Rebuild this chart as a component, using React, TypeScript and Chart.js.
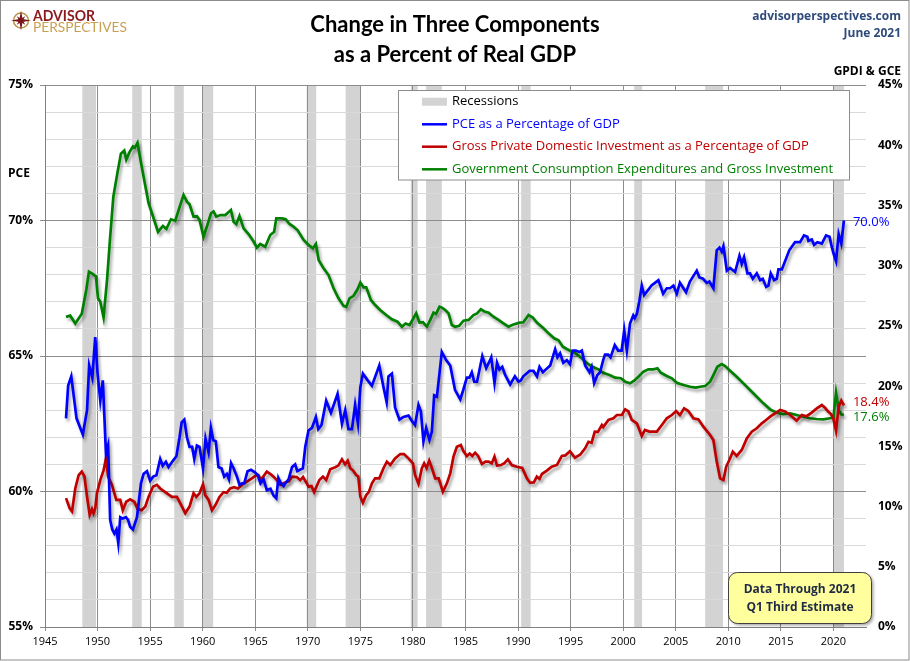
import React, { useEffect, useRef } from 'react';
import { Chart, registerables } from 'chart.js';

Chart.register(...registerables);

// ---------- DATA ----------
// PCE as % of GDP (left axis) : [year, percent]
const pceSeries: [number, number][] = [
  [1947.0, 62.7], [1947.2, 63.9], [1947.5, 64.25], [1948.0, 62.7], [1948.3, 62.4], [1948.6, 62.1],
  [1949.0, 63.0], [1949.2, 64.65], [1949.5, 64.2], [1949.78, 65.7], [1950.0, 64.35], [1950.26, 63.35],
  [1950.5, 64.1], [1950.8, 61.4], [1951.0, 61.7], [1951.2, 58.95], [1951.4, 58.6], [1951.6, 58.45],
  [1951.8, 58.6], [1951.97, 58.1], [1952.16, 59.05], [1952.4, 59.0], [1952.7, 59.05], [1952.9, 58.95],
  [1953.1, 58.7], [1953.37, 58.6], [1953.75, 59.05], [1954.13, 60.3], [1954.38, 60.65], [1954.7, 60.75],
  [1955.0, 60.4], [1955.3, 60.55], [1955.6, 60.6], [1955.96, 61.2], [1956.2, 60.95], [1956.5, 61.1],
  [1956.75, 60.9], [1957.2, 61.15], [1957.5, 61.3], [1957.8, 62.0], [1958.0, 62.55], [1958.25, 62.65],
  [1958.5, 62.0], [1958.75, 61.65], [1959.0, 61.65], [1959.2, 61.2], [1959.45, 61.7], [1959.7, 61.65],
  [1960.03, 60.85], [1960.27, 61.95], [1960.56, 61.45], [1960.78, 62.35], [1961.0, 61.9], [1961.25, 61.85],
  [1961.5, 60.9], [1961.8, 60.85], [1962.05, 60.55], [1962.3, 60.65], [1962.5, 60.45], [1962.7, 61.05],
  [1962.95, 60.85], [1963.26, 60.55], [1963.5, 60.25], [1963.75, 60.3], [1963.95, 60.3], [1964.27, 60.75],
  [1964.6, 60.8], [1965.0, 60.7], [1965.25, 60.6], [1965.5, 60.3], [1965.8, 60.45], [1966.1, 60.05],
  [1966.45, 60.1], [1966.74, 59.85], [1967.0, 59.75], [1967.2, 60.5], [1967.45, 60.3], [1967.7, 60.2],
  [1967.95, 60.35], [1968.17, 60.45], [1968.5, 60.9], [1968.8, 61.0], [1969.0, 60.75], [1969.25, 60.8],
  [1969.53, 60.85], [1969.76, 61.65], [1970.07, 62.25], [1970.4, 62.35], [1970.77, 62.75], [1971.0, 62.3],
  [1971.3, 62.45], [1971.75, 63.35], [1972.2, 62.9], [1972.83, 63.6], [1973.25, 62.5], [1973.56, 63.0],
  [1973.87, 62.3], [1974.2, 62.3], [1974.5, 63.2], [1974.77, 62.5], [1975.0, 63.85], [1975.24, 64.35],
  [1975.7, 64.1], [1976.1, 63.9], [1976.8, 64.65], [1977.2, 63.85], [1977.5, 63.3], [1977.67, 64.25],
  [1978.0, 64.35], [1978.3, 63.1], [1978.72, 62.65], [1979.1, 62.75], [1979.58, 62.8], [1979.9, 62.6],
  [1980.2, 62.45], [1980.53, 63.2], [1980.76, 62.95], [1981.0, 61.85], [1981.26, 62.35], [1981.57, 61.9],
  [1981.8, 62.2], [1982.02, 63.55], [1982.28, 63.5], [1982.75, 65.15], [1983.16, 64.85], [1983.55, 64.65],
  [1984.0, 63.75], [1984.5, 63.4], [1984.75, 63.7], [1985.13, 64.2], [1985.37, 64.2], [1985.6, 64.4],
  [1985.83, 64.05], [1986.1, 64.05], [1986.6, 65.0], [1986.97, 64.55], [1987.28, 64.8], [1987.45, 64.95],
  [1987.76, 64.0], [1988.0, 64.75], [1988.23, 64.5], [1988.5, 64.6], [1988.77, 64.3], [1989.25, 63.95],
  [1989.7, 64.25], [1990.04, 64.05], [1990.26, 64.1], [1990.5, 64.25], [1991.1, 64.45], [1991.47, 64.45],
  [1991.8, 64.25], [1992.04, 64.6], [1992.36, 64.4], [1993.06, 64.65], [1993.53, 65.25], [1993.75, 64.95],
  [1994.0, 65.1], [1994.3, 64.75], [1994.64, 64.85], [1994.94, 64.7], [1995.2, 65.2], [1995.5, 65.2],
  [1995.84, 65.15], [1996.07, 65.2], [1996.38, 64.65], [1996.8, 64.4], [1997.0, 64.6], [1997.24, 64.0],
  [1997.55, 64.3], [1997.8, 64.4], [1998.1, 64.85], [1998.27, 65.05], [1998.58, 65.05], [1998.8, 64.95],
  [1999.2, 65.4], [1999.53, 65.2], [1999.85, 65.2], [2000.1, 65.95], [2000.35, 65.2], [2000.65, 66.2],
  [2000.96, 66.5], [2001.1, 66.4], [2001.3, 66.55], [2001.55, 67.05], [2001.77, 67.6], [2001.99, 67.25],
  [2002.4, 67.45], [2002.7, 67.6], [2003.02, 67.7], [2003.35, 67.8], [2003.58, 67.55], [2003.8, 67.3],
  [2004.15, 67.5], [2004.45, 67.5], [2004.78, 67.6], [2005.1, 67.3], [2005.4, 67.7], [2005.98, 67.35],
  [2006.35, 67.75], [2007.0, 68.15], [2007.25, 67.9], [2007.6, 67.85], [2007.95, 67.7], [2008.2, 67.75],
  [2008.58, 67.5], [2008.9, 68.9], [2009.16, 69.0], [2009.38, 68.85], [2009.54, 69.05], [2009.86, 68.15],
  [2010.17, 68.25], [2010.65, 68.1], [2011.06, 68.7], [2011.28, 68.4], [2011.5, 68.65], [2011.82, 68.05],
  [2012.07, 68.05], [2012.33, 67.85], [2012.71, 68.05], [2013.03, 67.8], [2013.28, 67.85], [2013.6, 67.55],
  [2013.82, 67.6], [2014.04, 68.05], [2014.36, 67.8], [2014.61, 67.85], [2014.77, 68.2], [2015.1, 68.2],
  [2015.4, 68.5], [2015.8, 68.9], [2016.35, 69.2], [2016.83, 69.2], [2017.2, 69.45], [2017.52, 69.4],
  [2017.62, 69.25], [2017.94, 69.3], [2018.16, 69.1], [2018.48, 69.2], [2018.9, 69.15], [2019.3, 69.45],
  [2019.63, 69.4], [2019.8, 69.1], [2020.0, 68.8], [2020.25, 68.5], [2020.5, 69.5], [2020.75, 69.15],
  [2021.0, 70.0],
];

// Gross Private Domestic Investment as % of GDP (right axis)
const gpdiSeries: [number, number][] = [
  [1947.0, 10.7], [1947.35, 9.85], [1947.57, 9.6], [1947.88, 11.5], [1948.2, 12.6], [1948.5, 12.9],
  [1948.75, 12.5], [1949.0, 10.8], [1949.25, 9.3], [1949.47, 9.8], [1949.62, 9.45], [1949.78, 9.85],
  [1949.94, 11.1], [1950.26, 12.2], [1950.57, 13.0], [1950.8, 14.0], [1951.0, 12.5], [1951.37, 11.8],
  [1951.78, 10.55], [1952.16, 10.55], [1952.4, 9.7], [1952.73, 10.4], [1953.1, 10.6], [1953.5, 10.4],
  [1953.8, 9.8], [1954.2, 9.7], [1954.54, 10.0], [1954.85, 10.8], [1955.27, 11.65], [1955.65, 11.8],
  [1955.96, 11.5], [1956.44, 11.2], [1957.07, 10.8], [1957.55, 10.8], [1958.03, 10.0], [1958.34, 9.45],
  [1958.75, 10.0], [1959.13, 11.1], [1959.39, 10.8], [1959.7, 11.1], [1960.03, 11.85], [1960.24, 10.95],
  [1960.56, 10.55], [1960.88, 9.7], [1961.2, 10.1], [1961.6, 10.8], [1961.98, 11.2], [1962.3, 11.15],
  [1962.62, 11.5], [1963.0, 11.6], [1963.35, 11.5], [1963.73, 11.8], [1964.2, 12.07], [1964.68, 12.34],
  [1965.0, 12.54], [1965.3, 12.62], [1965.55, 12.2], [1965.8, 12.54], [1966.1, 12.9], [1966.45, 12.7],
  [1966.74, 12.48], [1967.05, 12.2], [1967.38, 11.8], [1967.85, 12.0], [1968.2, 12.1], [1968.49, 12.48],
  [1968.95, 12.45], [1969.28, 12.2], [1969.55, 12.45], [1969.85, 12.0], [1970.07, 11.65], [1970.35, 11.7],
  [1970.6, 11.2], [1970.85, 11.7], [1971.1, 12.2], [1971.44, 12.48], [1971.75, 12.2], [1972.13, 13.1],
  [1972.6, 13.26], [1972.9, 13.4], [1973.25, 13.92], [1973.55, 13.5], [1973.8, 13.81], [1974.04, 13.18],
  [1974.3, 13.0], [1974.6, 12.62], [1974.8, 12.5], [1975.0, 10.82], [1975.24, 10.32], [1975.56, 10.96],
  [1975.8, 11.2], [1976.1, 11.93], [1976.4, 12.34], [1976.8, 12.34], [1977.2, 13.18], [1977.52, 13.73],
  [1977.85, 13.45], [1978.3, 14.0], [1978.8, 14.36], [1979.15, 14.36], [1979.58, 14.0], [1980.0, 13.59],
  [1980.2, 12.62], [1980.53, 11.88], [1980.85, 13.18], [1981.07, 13.59], [1981.3, 13.2], [1981.55, 13.81],
  [1981.8, 13.2], [1982.12, 12.34], [1982.45, 12.34], [1982.85, 11.23], [1983.23, 11.93], [1983.55, 12.76],
  [1983.86, 14.14], [1984.18, 14.97], [1984.56, 15.11], [1984.8, 14.6], [1985.13, 14.2], [1985.4, 14.4],
  [1985.65, 14.2], [1985.92, 14.47], [1986.2, 14.2], [1986.56, 13.53], [1986.9, 13.73], [1987.2, 13.73],
  [1987.5, 13.59], [1987.76, 14.14], [1988.0, 13.4], [1988.4, 13.45], [1988.7, 13.6], [1989.03, 13.92],
  [1989.4, 13.45], [1989.89, 13.31], [1990.4, 13.2], [1990.84, 12.34], [1991.15, 11.98], [1991.5, 12.0],
  [1991.79, 12.48], [1992.05, 12.3], [1992.27, 12.7], [1992.74, 12.98], [1993.2, 13.3], [1993.7, 13.45],
  [1994.17, 14.2], [1994.5, 14.25], [1994.94, 14.6], [1995.41, 14.05], [1995.9, 14.3], [1996.38, 14.83],
  [1996.7, 15.38], [1997.0, 15.3], [1997.3, 16.22], [1997.6, 16.2], [1997.97, 16.77], [1998.1, 16.6],
  [1998.6, 17.19], [1999.07, 17.33], [1999.4, 17.6], [1999.87, 17.6], [2000.19, 18.07], [2000.5, 17.9],
  [2000.82, 17.19], [2001.3, 16.91], [2001.77, 15.86], [2002.07, 16.36], [2002.5, 16.22], [2003.2, 16.22],
  [2003.68, 16.77], [2004.15, 17.33], [2004.63, 17.6], [2005.04, 17.93], [2005.4, 17.6], [2005.8, 18.15],
  [2006.2, 17.93], [2006.68, 17.33], [2007.16, 17.24], [2007.63, 16.63], [2008.27, 15.94], [2008.58, 15.52],
  [2008.9, 13.73], [2009.22, 12.34], [2009.54, 12.2], [2009.8, 13.31], [2010.1, 13.86], [2010.43, 14.56],
  [2010.8, 14.2], [2011.28, 14.7], [2011.76, 15.66], [2012.23, 16.22], [2012.71, 16.5], [2013.19, 16.91],
  [2013.6, 17.19], [2013.98, 17.46], [2014.45, 17.74], [2014.93, 18.02], [2015.4, 17.9], [2015.88, 17.6],
  [2016.5, 17.13], [2016.99, 17.6], [2017.45, 17.5], [2017.93, 17.8], [2018.42, 18.15], [2018.9, 18.43],
  [2019.2, 18.2], [2019.5, 17.88], [2019.75, 17.7], [2020.0, 17.3], [2020.25, 16.3], [2020.5, 18.3],
  [2020.75, 18.8], [2021.0, 18.4],
];

// Government Consumption Expenditures and Gross Investment as % of GDP (right axis)
const gceSeries: [number, number][] = [
  [1947.0, 25.75], [1947.4, 25.85], [1947.88, 25.2], [1948.5, 26.0], [1948.93, 28.0], [1949.18, 29.5],
  [1949.56, 29.3], [1949.85, 29.1], [1950.04, 27.3], [1950.26, 27.0], [1950.57, 25.7], [1950.9, 28.8],
  [1951.2, 32.4], [1951.5, 35.7], [1951.85, 37.5], [1952.22, 39.3], [1952.54, 39.55], [1952.73, 38.8],
  [1953.05, 39.45], [1953.37, 39.9], [1953.55, 39.8], [1953.8, 40.2], [1954.06, 38.9], [1954.44, 37.1],
  [1954.85, 35.2], [1955.27, 34.1], [1955.75, 32.8], [1956.22, 33.3], [1956.55, 33.05], [1956.98, 33.85],
  [1957.39, 33.73], [1957.87, 35.04], [1958.18, 35.87], [1958.5, 35.31], [1958.75, 35.1], [1959.13, 34.07],
  [1959.45, 34.1], [1959.7, 33.8], [1960.08, 32.4], [1960.46, 33.4], [1960.79, 34.35], [1961.03, 34.5],
  [1961.29, 34.07], [1961.7, 34.2], [1962.15, 34.2], [1962.69, 34.62], [1962.94, 33.65], [1963.2, 33.45],
  [1963.5, 34.13], [1963.89, 33.1], [1964.36, 32.63], [1964.84, 32.0], [1965.16, 31.5], [1965.47, 31.8],
  [1965.95, 31.57], [1966.43, 32.55], [1966.8, 32.82], [1967.0, 33.93], [1967.54, 33.93], [1967.9, 33.85],
  [1968.26, 33.46], [1968.64, 33.24], [1969.02, 32.96], [1969.6, 32.13], [1970.07, 31.72], [1970.49, 31.44],
  [1970.77, 31.8], [1971.03, 30.47], [1971.5, 29.78], [1971.97, 29.22], [1972.45, 28.12], [1972.92, 27.29],
  [1973.4, 26.66], [1973.66, 26.59], [1973.97, 27.29], [1974.35, 27.5], [1974.73, 28.04], [1975.0, 28.59],
  [1975.3, 28.2], [1975.56, 28.2], [1976.0, 27.15], [1976.41, 26.73], [1976.88, 26.32], [1977.46, 25.9],
  [1978.0, 25.55], [1978.53, 25.35], [1978.95, 24.93], [1979.3, 25.2], [1979.68, 25.07], [1980.0, 25.55],
  [1980.31, 26.04], [1980.63, 25.27], [1980.95, 25.3], [1981.33, 24.93], [1981.65, 25.5], [1981.96, 26.1],
  [1982.2, 26.0], [1982.53, 26.59], [1982.8, 26.5], [1983.1, 26.3], [1983.39, 26.04], [1983.7, 25.07],
  [1984.02, 24.93], [1984.4, 25.0], [1984.81, 25.43], [1985.3, 25.5], [1985.76, 25.9], [1986.1, 26.04],
  [1986.46, 26.38], [1986.8, 26.2], [1987.2, 26.1], [1987.66, 25.76], [1988.14, 25.49], [1988.61, 25.21],
  [1989.09, 24.93], [1989.5, 25.1], [1990.14, 25.27], [1990.5, 25.3], [1991.0, 25.9], [1991.4, 25.7],
  [1991.79, 25.27], [1992.42, 24.8], [1992.9, 24.38], [1993.44, 23.97], [1993.85, 23.8], [1994.26, 23.27],
  [1994.6, 23.1], [1994.94, 22.94], [1995.41, 22.78], [1996.05, 22.31], [1996.58, 21.89], [1997.1, 21.61],
  [1997.65, 21.39], [1998.1, 21.11], [1998.7, 20.92], [1999.24, 20.7], [1999.78, 20.65], [2000.19, 20.37],
  [2000.65, 20.23], [2001.04, 20.45], [2001.45, 20.78], [2001.93, 21.2], [2002.4, 21.39], [2002.88, 21.39],
  [2003.26, 21.48], [2003.58, 21.11], [2004.15, 20.84], [2004.63, 20.65], [2005.1, 20.28], [2005.74, 20.09],
  [2006.37, 19.95], [2006.9, 19.87], [2007.32, 19.95], [2007.8, 20.01], [2008.27, 20.37], [2008.58, 20.92],
  [2008.96, 21.61], [2009.38, 21.83], [2009.7, 21.67], [2010.17, 21.28], [2010.8, 20.78], [2011.44, 20.23],
  [2012.07, 19.68], [2012.71, 19.12], [2013.34, 18.57], [2013.98, 18.07], [2014.61, 17.8], [2015.24, 17.68],
  [2015.88, 17.74], [2016.5, 17.6], [2017.14, 17.46], [2017.77, 17.33], [2018.4, 17.27], [2019.04, 17.24],
  [2019.67, 17.33], [2019.92, 17.35], [2020.0, 17.4], [2020.25, 19.45], [2020.5, 18.0], [2020.75, 17.65],
  [2021.0, 17.6],
];

// Recession bands (start / end, decimal years)
const recessionStarts = [1948.55, 1953.3, 1957.3, 1960.0, 1969.9, 1973.6, 1979.8, 1981.25, 1990.3, 2001.05, 2007.8, 2020.0];
const recessionEnds = [1949.85, 1954.2, 1958.2, 1961.0, 1970.8, 1975.0, 1980.45, 1982.75, 1991.2, 2001.8, 2009.5, 2021.0];

const seriesLabels = [
  'PCE as a Percentage of GDP',
  'Gross Private Domestic Investment as a Percentage of GDP',
  'Government Consumption Expenditures and Gross Investment',
];
const seriesColors = ['#0000FF', '#C00000', '#008000'];
const recessionLabel = 'Recessions';
const titleLines = ['Change in Three Components', 'as a Percent of Real GDP'];
const noteLines = ['Data Through 2021', 'Q1 Third Estimate'];

const W = 910;
const H = 661;
const FONT = '"Open Sans", "DejaVu Sans", sans-serif';

function star4(ctx: CanvasRenderingContext2D, outer: number, inner: number, rot: number) {
  ctx.beginPath();
  for (let i = 0; i < 8; i++) {
    const r = i % 2 === 0 ? outer : inner;
    const a = rot + (i * Math.PI) / 4 - Math.PI / 2;
    const px = Math.cos(a) * r;
    const py = Math.sin(a) * r;
    if (i === 0) ctx.moveTo(px, py);
    else ctx.lineTo(px, py);
  }
  ctx.closePath();
  ctx.fill();
}

export default function App() {
  const ref = useRef<HTMLCanvasElement>(null);

  useEffect(() => {
    const canvas = ref.current;
    if (!canvas) return;
    const toXY = (s: [number, number][]) => s.map(([x, y]) => ({ x, y }));

    const decor = {
      id: 'decor',
      beforeDraw(chart: any) {
        const { ctx, chartArea: a, scales } = chart;
        const xs = scales.x;
        ctx.save();
        ctx.fillStyle = '#D3D3D3';
        recessionStarts.forEach((s, i) => {
          const x0 = xs.getPixelForValue(s);
          const x1 = xs.getPixelForValue(recessionEnds[i]);
          ctx.fillRect(x0, a.top, x1 - x0, a.bottom - a.top);
        });
        ctx.restore();
      },
      beforeDatasetDraw(chart: any) {
        const ctx = chart.ctx;
        ctx.save();
        ctx.shadowColor = 'rgba(0,0,0,0.35)';
        ctx.shadowBlur = 3;
        ctx.shadowOffsetX = 2;
        ctx.shadowOffsetY = 3;
      },
      afterDatasetDraw(chart: any) {
        chart.ctx.restore();
      },
      afterDraw(chart: any) {
        const { ctx, scales } = chart;
        const xs = scales.x;
        ctx.save();

        // end-value labels
        ctx.textBaseline = 'middle';
        ctx.textAlign = 'left';
        ctx.font = `13px ${FONT}`;
        const ends = [
          { s: pceSeries, axis: scales.y, color: seriesColors[0], dy: 2 },
          { s: gpdiSeries, axis: scales.y2, color: seriesColors[1], dy: -3 },
          { s: gceSeries, axis: scales.y2, color: seriesColors[2], dy: 2 },
        ];
        ends.forEach(({ s, axis, color, dy }) => {
          const [lx, ly] = s[s.length - 1];
          ctx.fillStyle = color;
          ctx.fillText(ly.toFixed(1) + '%', xs.getPixelForValue(lx) + 9, axis.getPixelForValue(ly) + dy);
        });

        // title
        ctx.fillStyle = '#000';
        ctx.textAlign = 'center';
        ctx.textBaseline = 'alphabetic';
        ctx.font = `bold 22px Lato, ${FONT}`;
        ctx.fillText(titleLines[0], 455, 32);
        ctx.fillText(titleLines[1], 455, 62);

        // site + date
        ctx.textAlign = 'right';
        ctx.fillStyle = '#2F4B7C';
        ctx.font = `bold 12px ${FONT}`;
        ctx.fillText('advisorperspectives.com', 901, 20);
        ctx.fillText('June 2021', 901, 37);

        // axis titles
        ctx.fillStyle = '#000';
        ctx.font = `bold 12px ${FONT}`;
        ctx.fillText('GPDI & GCE', 901, 75);
        ctx.textAlign = 'left';
        ctx.fillText('PCE', 8, 177);

        // legend
        const lx = 398.5, ly = 90.5, lw = 451, lh = 89.5;
        ctx.fillStyle = '#fff';
        ctx.fillRect(lx, ly, lw, lh);
        ctx.strokeStyle = '#8C8C8C';
        ctx.lineWidth = 1;
        ctx.strokeRect(lx, ly, lw, lh);
        const rows = [101.7, 124.3, 146.7, 169.3];
        ctx.fillStyle = '#D3D3D3';
        ctx.fillRect(422, rows[0] - 4, 25, 8);
        ctx.font = `13px ${FONT}`;
        ctx.textBaseline = 'middle';
        ctx.fillStyle = '#000';
        ctx.fillText(recessionLabel, 452, rows[0]);
        seriesLabels.forEach((lab, i) => {
          const y = rows[i + 1];
          ctx.strokeStyle = seriesColors[i];
          ctx.lineWidth = 2.5;
          ctx.beginPath();
          ctx.moveTo(422, y);
          ctx.lineTo(447, y);
          ctx.stroke();
          ctx.fillStyle = seriesColors[i];
          ctx.fillText(lab, 452, y);
        });

        // note box
        ctx.save();
        ctx.shadowColor = 'rgba(0,0,0,0.35)';
        ctx.shadowBlur = 3;
        ctx.shadowOffsetX = 2;
        ctx.shadowOffsetY = 2;
        ctx.fillStyle = '#FFFF9E';
        ctx.beginPath();
        (ctx as any).roundRect(728.5, 572.5, 143, 51, 9);
        ctx.fill();
        ctx.restore();
        ctx.strokeStyle = '#404040';
        ctx.lineWidth = 1;
        ctx.beginPath();
        (ctx as any).roundRect(728.5, 572.5, 143, 51, 9);
        ctx.stroke();
        ctx.fillStyle = '#1F2A44';
        ctx.font = `bold 12px ${FONT}`;
        ctx.textAlign = 'center';
        ctx.textBaseline = 'alphabetic';
        ctx.fillText(noteLines[0], 800, 593);
        ctx.fillText(noteLines[1], 800, 611);

        // logo
        ctx.save();
        ctx.translate(21, 20.5);
        ctx.strokeStyle = '#B8924A';
        ctx.lineWidth = 1.5;
        ctx.beginPath();
        ctx.arc(0, 0, 7.5, 0, Math.PI * 2);
        ctx.stroke();
        ctx.fillStyle = '#7A1418';
        star4(ctx, 10, 2.2, 0);
        star4(ctx, 6, 1.8, Math.PI / 4);
        ctx.restore();
        ctx.textAlign = 'left';
        ctx.fillStyle = '#8B1A1F';
        ctx.font = `bold 15px Lato, ${FONT}`;
        ctx.fillText('ADVISOR', 33, 21, 62);
        ctx.fillStyle = '#C8A052';
        ctx.font = `14px Lato, ${FONT}`;
        ctx.fillText('PERSPECTIVES', 33, 32, 94);

        // outer border
        ctx.strokeStyle = '#8C8C8C';
        ctx.lineWidth = 1;
        ctx.strokeRect(0.5, 0.5, W - 1.5, H - 1.5);
        ctx.restore();
      },
    };

    const chart = new Chart(canvas, {
      type: 'line',
      data: {
        datasets: [
          { label: seriesLabels[0], data: toXY(pceSeries), yAxisID: 'y', borderColor: seriesColors[0], borderWidth: 2.7, pointRadius: 0, tension: 0, fill: false },
          { label: seriesLabels[1], data: toXY(gpdiSeries), yAxisID: 'y2', borderColor: seriesColors[1], borderWidth: 2.7, pointRadius: 0, tension: 0, fill: false },
          { label: seriesLabels[2], data: toXY(gceSeries), yAxisID: 'y2', borderColor: seriesColors[2], borderWidth: 2.7, pointRadius: 0, tension: 0, fill: false },
        ],
      },
      options: {
        animation: false,
        responsive: false,
        devicePixelRatio: 1,
        layout: { padding: { top: 85, left: 0, right: 0, bottom: 0 } },
        plugins: { legend: { display: false }, tooltip: { enabled: false }, title: { display: false } },
        scales: {
          x: {
            type: 'linear',
            min: 1945,
            max: 2023.1,
            afterFit: (s: any) => { s.height = 34; },
            ticks: {
              stepSize: 5,
              includeBounds: false,
              autoSkip: false,
              maxRotation: 0,
              callback: (v: any) => String(v),
              font: { family: FONT, size: 11 },
              color: '#000',
              padding: 4,
            },
            grid: { color: '#8C8C8C', lineWidth: 1, tickLength: 4, tickColor: '#8C8C8C' },
            border: { color: '#808080', width: 1 },
          },
          y: {
            position: 'left',
            min: 55,
            max: 75,
            afterFit: (s: any) => { s.width = 45; },
            ticks: {
              stepSize: 1,
              autoSkip: false,
              callback: (v: any) => (v % 5 === 0 ? v + '%' : ''),
              font: { family: FONT, size: 12, weight: 'bold' },
              color: '#000',
              padding: 7,
            },
            grid: {
              color: (c: any) => (c.tick && c.tick.value % 5 === 0 ? '#8C8C8C' : '#D9D9D9'),
              tickColor: (c: any) => (c.tick && c.tick.value % 5 === 0 ? '#8C8C8C' : 'rgba(0,0,0,0)'),
              tickLength: 5,
              lineWidth: 1,
            },
            border: { color: '#808080', width: 1 },
          },
          y2: {
            position: 'right',
            min: 0,
            max: 45,
            afterFit: (s: any) => { s.width = 44; },
            ticks: {
              stepSize: 5,
              autoSkip: false,
              callback: (v: any) => v + '%',
              font: { family: FONT, size: 12, weight: 'bold' },
              color: '#000',
              padding: 12,
            },
            grid: { display: false, drawTicks: false, drawOnChartArea: false },
            border: { display: false },
          },
        },
      } as any,
      plugins: [decor],
    });

    return () => chart.destroy();
  }, []);

  return (
    <div style={{ position: 'absolute', left: 0, top: 0, width: W, height: H, background: '#fff' }}>
      <canvas ref={ref} width={W} height={H} style={{ display: 'block', width: W, height: H }} />
    </div>
  );
}
